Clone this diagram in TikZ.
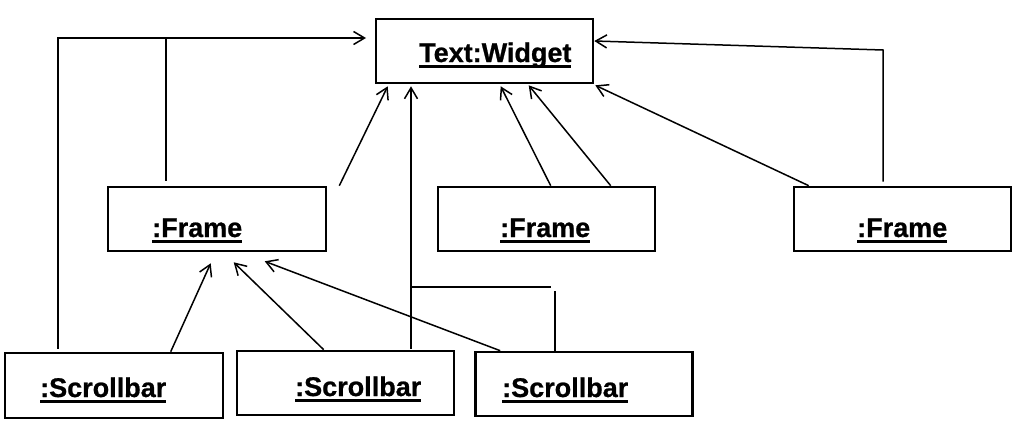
\documentclass[tikz,border=0pt]{standalone}
\usepackage{fontspec}
\setmainfont{Liberation Sans}[BoldFeatures={FakeBold=0.8}]
\usetikzlibrary{arrows.meta,calc}
\newcommand\ulbox[1]{\setbox0\hbox{#1}\rlap{\rule[-5.8pt]{\wd0}{2.8pt}}\box0}
\tikzset{
  obj/.style={draw, line width=2.6pt, inner sep=0pt, minimum height=64pt},
  lbl/.style={anchor=base west, inner sep=0pt, font=\bfseries\fontsize{27}{32}\selectfont},
  conn/.style={line width=1.5pt},
  arr/.style={conn, -{Straight Barb[length=11pt,width=13pt]}}
}
\begin{document}
\begin{tikzpicture}[x=1pt,y=-1pt]
\useasboundingbox (0,0) rectangle (1028,426);
% objects
\node[obj,minimum width=217pt] (W) at (484.5,51) {};
\node[lbl] (Wt) at (419,62) {\ulbox{Text:Widget}};
\node[obj,minimum width=218pt] (F1) at (217,219) {};
\node[lbl] (F1t) at (152,237) {\ulbox{:Frame}};
\node[obj,minimum width=217pt] (F2) at (546.5,219) {};
\node[lbl] (F2t) at (500,237) {\ulbox{:Frame}};
\node[obj,minimum width=217pt] (F3) at (902.5,219) {};
\node[lbl] (F3t) at (857,237) {\ulbox{:Frame}};
\node[obj,minimum width=218pt,minimum height=65pt] (S1) at (114,385.5) {};
\node[lbl] (S1t) at (40,397) {\ulbox{:Scrollbar}};
\node[obj,minimum width=217pt] (S2) at (345.5,383) {};
\node[lbl] (S2t) at (295,396) {\ulbox{:Scrollbar}};
\node[obj,minimum width=217pt] (S3) at (584,384) {};
\node[lbl] (S3t) at (502,397) {\ulbox{:Scrollbar}};
% helper coordinates
\coordinate (c1) at (58,38);
\coordinate (t1) at (366,38);
\coordinate (c2) at (166,38);
\coordinate (c4) at (411,0);
\coordinate (c5a) at (411,287);
\coordinate (c5b) at (551,287);
\coordinate (c5c) at (555,291);
\coordinate (c7) at (883,50);
% connectors
\draw[arr] ([yshift=3pt]S1.north -| c1) -- (c1) -- (t1);
\draw[conn] ([yshift=5pt]F1.north -| c2) -- (c2);
\draw[arr] ($(F1.north east)+(12,0)$) -- ($(W.south west)+(13,2)$);
\draw[arr] ([yshift=1pt]S2.north -| c4) -- ([yshift=-2pt]W.south -| c4);
\draw[conn] (c5a) -- (c5b);
\draw[conn] (c5c) -- (S3.north -| c5c);
\draw[arr] ($(F2.north west)+(114,0)$) -- ($(W.south west)+(126,2)$);
\draw[arr] ($(F2.north west)+(174,0)$) -- ($(W.south west)+(154,1)$);
\draw[arr] ($(F3.north west)+(16,0)$) -- ($(W.south east)+(1,1)$);
\draw[arr] ([yshift=4pt]F3.north -| c7) -- (c7) -- ($(W.east)+(0,-10)$);
\draw[arr] ($(S1.north west)+(167,0)$) -- ($(F1.south west)+(104,11)$);
\draw[arr] ($(S2.north west)+(88,0)$) -- ($(F1.south west)+(127,10)$);
\draw[arr] ($(S3.north west)+(26,0)$) -- ($(F1.south west)+(158,9)$);
\end{tikzpicture}
\end{document}
